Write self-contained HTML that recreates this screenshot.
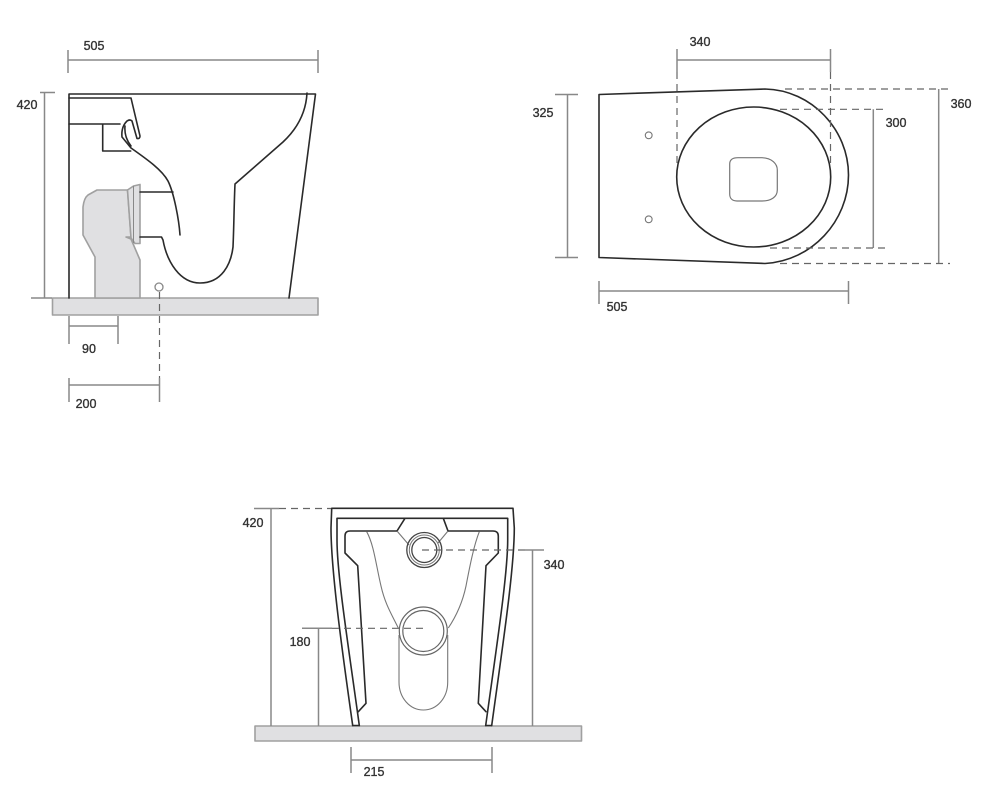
<!DOCTYPE html>
<html>
<head>
<meta charset="utf-8">
<style>
html,body{margin:0;padding:0;background:#fff;width:1000px;height:807px;overflow:hidden}
svg{display:block;filter:blur(.35px)}
text{font-family:"Liberation Sans",sans-serif;font-size:12.5px;fill:#333;text-anchor:middle;stroke:#333;stroke-width:.35}
.m{fill:none;stroke:#2a2a2a;stroke-width:1.6;stroke-linejoin:round;stroke-linecap:round}
.d{fill:none;stroke:#888;stroke-width:1.5}
.k{fill:none;stroke:#666;stroke-width:1.2;stroke-dasharray:7 5}
.g{fill:#e0e0e2;stroke:#a0a0a0;stroke-width:1.6;stroke-linejoin:round}
</style>
</head>
<body>
<svg width="1000" height="807" viewBox="0 0 1000 807" xmlns="http://www.w3.org/2000/svg">
<!-- SIDE VIEW -->
<rect x="52.5" y="298" width="265.5" height="17" class="g"/>
<path class="g" d="M95 298V257L83 235V207Q84 198 88 195L97 190H127.5L131 237H126L131 239L140 260V298Z"/>
<path class="g" d="M127.5 190L133.500 186L140 184.500V243.500H135L131 238Z"/>
<path d="M133.500 186V243" fill="none" stroke="#888" stroke-width="1"/>
<path class="m" d="M69 298V94H315.500L289 298"/>
<path class="m" d="M307 93C306 112 298 128 283 142L235 184C234 205 234 225 233 247C231 264 222 283 200 283C180 283 167 262 163 240L161.500 237H140"/>
<path class="m" d="M69 98H131L140 136Q140 139 137 138.500L132 121Q130 119 127 121Q121 127 122 137L131 148C148 160 162 170 168 181C174 193 179 220 180 235"/>
<path class="m" d="M125 126Q124 137 131 146" stroke-width="1"/>
<path class="m" d="M69 124H120M102.700 124V151H130.700M140 192H173"/>
<circle cx="159" cy="287" r="4" fill="#fff" stroke="#888" stroke-width="1.300"/>
<path class="k" d="M159.500 292V378" stroke-dasharray="6 6"/>
<path class="d" d="M68 60H318M68 50V73M318 50V73M44.500 93V298M31 298H52M40 92.500H55M69 316V344M118 316V344M69 326H118M69 378V402M159.500 378V402M69 385H159.500"/>
<text x="94" y="50">505</text>
<text x="27" y="109">420</text>
<text x="89" y="353">90</text>
<text x="86" y="408">200</text>

<!-- TOP VIEW -->
<path class="m" d="M599 94.500L765 89C812 90 848.500 130 848.500 175C848.500 221 812 261 765 263.500L599 257.500Z"/>
<ellipse cx="753.700" cy="177" rx="77" ry="70" class="m"/>
<path d="M738 157.700H762C772 158 777.300 164 777.300 170V190C777.300 197 771 201 762 201H737C732 201 729.700 198 729.700 194V164C729.700 160 732 157.700 738 157.700Z" fill="none" stroke="#777" stroke-width="1.200"/>
<circle cx="648.700" cy="135.300" r="3.400" fill="#fff" stroke="#777" stroke-width="1.100"/>
<circle cx="648.700" cy="219.300" r="3.400" fill="#fff" stroke="#777" stroke-width="1.100"/>
<path class="d" d="M677 49V72M830.500 49V72M677 60H830.500M567.500 94.500V257.500M555 94.500H578M555 257.500H578M938.700 89V263.500M873.300 109.300V248M599 281V304M848.500 281V304M599 291H848.500"/>
<path class="k" d="M677 72V165M830.500 72V165M785 89H950M780 263.500H950M780 109.300H885M770 248H885"/>
<text x="700" y="46">340</text>
<text x="543" y="117">325</text>
<text x="961" y="108">360</text>
<text x="896" y="127">300</text>
<text x="617" y="311">505</text>

<!-- FRONT VIEW -->
<rect x="255" y="726" width="326.500" height="15" class="g"/>
<path class="m" d="M352.700 725.500C342 650 331 570 331 528L331.700 508.300H513L514.300 528C514.300 570 502 650 491.700 725.500"/>
<path class="m" d="M359.300 725.500C349 650 337 575 337 540V518.300H507.700V540C507.700 575 496 650 485.700 725.500"/>
<path class="m" d="M352.700 725.500H359.300M491.700 725.500H485.700"/>
<path class="m" d="M397 531H350Q345 531 345 536V553L357.700 565.700L366 703.300L358.300 711.700M448 531H493Q498.300 531 498.300 536V553L486 565.700L478.300 703.300L486 711.700"/>
<path class="m" d="M405 518.300L397 531M443.300 518.300L448 531"/>
<path d="M397 531L409 545M448 531L438 543M366.700 531.700C374 545 376 565 381 586C385 604 392 615 398.300 628M479.300 531.700C474 545 470 565 466 586C462 605 455 618 448.300 628" fill="none" stroke="#777" stroke-width="1.100"/>
<circle cx="424.300" cy="550" r="17.500" fill="none" stroke="#444" stroke-width="1.300"/>
<circle cx="424.300" cy="550" r="15" fill="none" stroke="#777" stroke-width="1"/>
<circle cx="424.300" cy="550" r="12.500" fill="none" stroke="#444" stroke-width="1.300"/>
<circle cx="423.300" cy="631" r="24" fill="none" stroke="#666" stroke-width="1.200"/>
<circle cx="423.300" cy="631" r="20.500" fill="none" stroke="#666" stroke-width="1.200"/>
<path d="M399 635V682C399 698 410 710 423.300 710C437 710 447.700 698 447.700 682V635" fill="none" stroke="#777" stroke-width="1.100"/>
<path class="d" d="M271 508.500V726M254 508.500H279M532.500 550V726M525 550H544M318.500 628V726M302 628.300H332M351 747V773M492 747V773M351 760H492" stroke-width="1.300"/>
<path class="k" d="M279 508.500H331M422 550H525M332 628.300H424"/>
<text x="253" y="527">420</text>
<text x="554" y="569">340</text>
<text x="300" y="646">180</text>
<text x="374" y="776">215</text>
</svg>
</body>
</html>
